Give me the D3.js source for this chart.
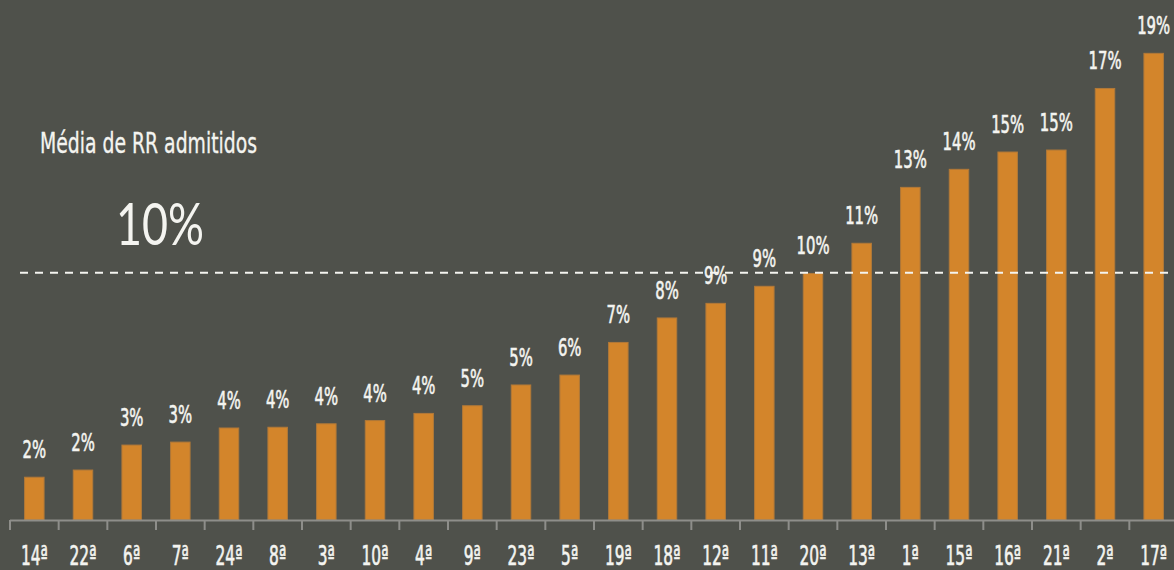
<!DOCTYPE html>
<html>
<head>
<meta charset="utf-8">
<script src="https://cdn.jsdelivr.net/npm/d3@7"></script>
<style>
  html, body { margin: 0; padding: 0; background: #4f514b; }
  svg { display: block; }
  .cond { font-family: "DejaVu Sans Condensed", "Liberation Sans Narrow", sans-serif; }
</style>
</head>
<body>
<svg id="chart" width="1174" height="570"></svg>
<script>
const categories = ["14ª","22ª","6ª","7ª","24ª","8ª","3ª","10ª","4ª","9ª","23ª","5ª","19ª","18ª","12ª","11ª","20ª","13ª","1ª","15ª","16ª","21ª","2ª","17ª"];
const values = [1.73,2.02,3.03,3.15,3.72,3.75,3.89,4.02,4.31,4.62,5.46,5.86,7.18,8.17,8.76,9.45,9.97,11.19,13.45,14.18,14.88,14.96,17.45,18.87];
const valueLabels = ["2%","2%","3%","3%","4%","4%","4%","4%","4%","5%","5%","6%","7%","8%","9%","9%","10%","11%","13%","14%","15%","15%","17%","19%"];
const averageValue = 10;
const averageTitle = "Média de RR admitidos";
const averageLabel = "10%";

const W = 1174, H = 570;
const svg = d3.select("#chart");
svg.append("rect").attr("width", W).attr("height", H).attr("fill", "#4f514b");

const x = d3.scaleBand().domain(categories).range([10, 1178]).paddingInner(0.6).paddingOuter(0.3);
const y = d3.scaleLinear().domain([0, 21]).range([520, 520 - 21 * 24.73]);

const data = categories.map((c, i) => ({ cat: c, v: values[i], label: valueLabels[i] }));

// bars
svg.append("g").selectAll("rect").data(data).join("rect")
  .attr("x", d => x(d.cat))
  .attr("y", d => y(d.v))
  .attr("width", x.bandwidth())
  .attr("height", d => y(0) - y(d.v))
  .attr("fill", "#d3852b")
  .attr("stroke", "#b27938")
  .attr("stroke-width", 1);

// value labels (condensed by horizontal scaling)
svg.append("g").attr("class", "cond").selectAll("text").data(data).join("text")
  .attr("transform", d => `translate(${x(d.cat) + x.bandwidth() / 2},${y(d.v) - 19}) scale(0.66,1)`)
  .attr("text-anchor", "middle")
  .attr("fill", "#f4f4f0")
  .attr("stroke", "#f4f4f0").attr("stroke-width", 0.6)
  .attr("font-size", 25)
  .text(d => d.label);

// axis
const axisG = svg.append("g");
axisG.append("line")
  .attr("x1", 10).attr("x2", W)
  .attr("y1", y(0) + 0.5).attr("y2", y(0) + 0.5)
  .attr("stroke", "#8e8e8a").attr("stroke-width", 2);
const half = (x.step() - x.bandwidth()) / 2;
const boundaries = categories.map(c => x(c) - half).concat([x(categories[categories.length - 1]) + x.bandwidth() + half]);
axisG.selectAll("line.tick").data(boundaries).join("line")
  .attr("class", "tick")
  .attr("x1", d => d).attr("x2", d => d)
  .attr("y1", y(0)).attr("y2", y(0) + 10)
  .attr("stroke", "#8e8e8a").attr("stroke-width", 2);
axisG.append("g").attr("class", "cond").selectAll("text").data(categories).join("text")
  .attr("transform", d => `translate(${x(d) + x.bandwidth() / 2},565) scale(0.66,1)`)
  .attr("text-anchor", "middle")
  .attr("fill", "#f4f4f0")
  .attr("stroke", "#f4f4f0").attr("stroke-width", 0.6)
  .attr("font-size", 26)
  .text(d => d);

// average line
svg.append("line")
  .attr("x1", 20).attr("x2", W)
  .attr("y1", y(averageValue)).attr("y2", y(averageValue))
  .attr("stroke", "#f4f4f0").attr("stroke-width", 2)
  .attr("stroke-dasharray", "8,7");

svg.append("text").attr("class", "cond")
  .attr("x", 40).attr("y", 153)
  .attr("fill", "#f4f4f0")
  .attr("stroke", "#f4f4f0").attr("stroke-width", 0.3)
  .attr("font-size", 28)
  .attr("textLength", 217).attr("lengthAdjust", "spacingAndGlyphs")
  .text(averageTitle);

svg.append("text")
  .attr("x", 116).attr("y", 245)
  .attr("fill", "#f4f4f0")
  .attr("font-family", "Lato, 'Open Sans', sans-serif")
  .attr("font-weight", 400)
  .attr("font-size", 58)
  .attr("textLength", 88).attr("lengthAdjust", "spacingAndGlyphs")
  .text(averageLabel);
</script>
</body>
</html>
